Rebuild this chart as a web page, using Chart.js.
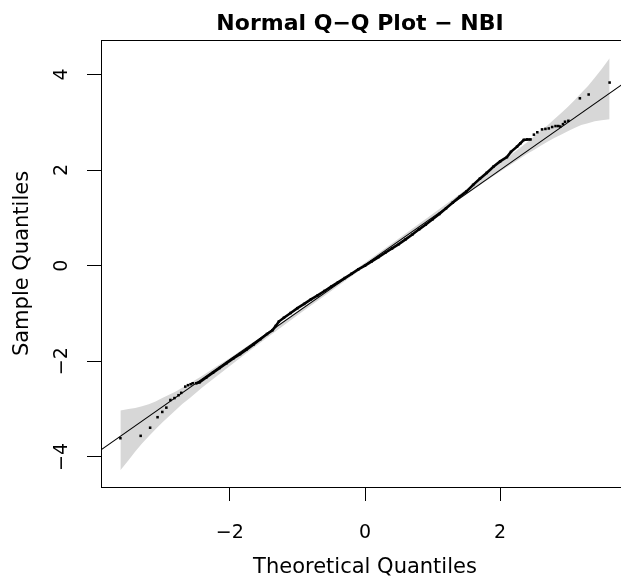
<!DOCTYPE html>
<html>
<head>
<meta charset="utf-8">
<script src="https://cdn.jsdelivr.net/npm/chart.js@4.4.1/dist/chart.umd.min.js"></script>
<style>
  html, body { margin: 0; padding: 0; background: #fff; overflow: hidden; }
  #wrap { width: 621px; height: 581px; overflow: hidden; position: relative; }
  canvas { display: block; }
</style>
</head>
<body>
<div id="wrap"><canvas id="c" width="633" height="581"></canvas></div>
<script>
// ---- data ----
const chartTitle = "Normal Q\u2212Q Plot \u2212 NBI";
const xAxisTitle = "Theoretical Quantiles";
const yAxisTitle = "Sample Quantiles";
const xTicks = [-2, 0, 2];
const yTicks = [-4, -2, 0, 2, 4];
const xRange = [-3.907, 3.907];
const yRange = [-4.63, 4.72];

// sample points (theoretical quantile, sample quantile)
const theoQ = [-3.62,-3.32,-3.18,-3.07,-3.00,-2.94,-2.88,-2.82,-2.76,-2.72,-2.66,-2.62,-2.58,-2.55,-2.50,
  -2.45,-2.35,-2.25,-2.15,-2.05,-1.95,-1.85,-1.75,-1.65,-1.55,-1.45,-1.37,-1.32,-1.275,-1.20,-1.10,-1.00,
  -0.90,-0.80,-0.70,-0.60,-0.50,-0.40,-0.30,-0.20,-0.10,0.00,0.10,0.20,0.30,0.40,0.50,0.60,0.70,0.80,0.90,
  1.00,1.10,1.20,1.30,1.40,1.50,1.60,1.70,1.80,1.90,2.00,2.10,2.16,2.25,2.30,2.35,2.40,2.45,2.50,2.55,2.62,
  2.67,2.72,2.77,2.82,2.86,2.89,2.93,2.96,3.01,3.18,3.31,3.62];
const sampleQ = [-3.61,-3.56,-3.39,-3.17,-3.06,-2.97,-2.81,-2.77,-2.71,-2.66,-2.53,-2.50,-2.48,-2.46,-2.46,
  -2.44,-2.34,-2.24,-2.14,-2.04,-1.94,-1.85,-1.75,-1.65,-1.54,-1.43,-1.35,-1.26,-1.17,-1.09,-0.99,-0.89,
  -0.80,-0.705,-0.62,-0.53,-0.44,-0.35,-0.26,-0.17,-0.08,0.00,0.09,0.18,0.27,0.36,0.45,0.55,0.65,0.76,0.86,
  0.97,1.08,1.20,1.32,1.44,1.55,1.69,1.82,1.94,2.07,2.18,2.27,2.38,2.49,2.56,2.63,2.64,2.64,2.74,2.79,2.85,
  2.86,2.87,2.90,2.92,2.92,2.91,2.96,3.01,3.03,3.50,3.58,3.83];
// the part where points are so dense they merge into a thick stroke
const denseFrom = -2.50, denseTo = 2.45;

// reference line
const lineIntercept = 0.018;
const lineSlope = 0.991;

// confidence envelope
const bandQ = [-3.62,-3.5,-3.4,-3.3,-3.2,-3.1,-3.0,-2.9,-2.8,-2.7,-2.6,-2.5,-2.4,-2.2,-2.0,-1.8,-1.5,-1.0,-0.5,0,
  0.5,1.0,1.5,1.8,2.0,2.2,2.4,2.5,2.6,2.7,2.8,2.9,3.0,3.1,3.2,3.3,3.4,3.5,3.62];
const bandUpper = [-3.03,-3.00,-2.98,-2.94,-2.90,-2.84,-2.77,-2.70,-2.63,-2.55,-2.47,-2.38,-2.30,-2.11,-1.93,-1.74,-1.45,-0.95,-0.45,0.06,
  0.57,1.08,1.60,1.92,2.14,2.36,2.58,2.70,2.82,2.93,3.06,3.19,3.32,3.46,3.61,3.76,3.93,4.11,4.34];
const bandLower = [-4.28,-4.07,-3.89,-3.72,-3.57,-3.42,-3.28,-3.15,-3.02,-2.89,-2.78,-2.66,-2.54,-2.32,-2.10,-1.88,-1.56,-1.04,-0.53,-0.02,
  0.49,0.99,1.49,1.78,1.97,2.15,2.34,2.42,2.51,2.59,2.67,2.74,2.81,2.88,2.94,2.98,3.02,3.04,3.06];

// ---- build datasets ----
const pts = theoQ.map((q, i) => ({ x: q, y: sampleQ[i] }));
const densePts = pts.filter(p => p.x >= denseFrom && p.x <= denseTo);
const upperPts = bandQ.map((q, i) => ({ x: q, y: bandUpper[i] }));
const lowerPts = bandQ.map((q, i) => ({ x: q, y: bandLower[i] }));
const refLine = xRange.map(q => ({ x: q, y: lineIntercept + lineSlope * q }));

const FONT = "'DejaVu Sans', 'Liberation Sans', Arial, sans-serif";
const fmt = v => (v < 0 ? "\u2212" + Math.abs(v) : String(v));

const decorPlugin = {
  id: 'decor',
  afterDraw(chart) {
    const { ctx, chartArea: a, scales } = chart;
    ctx.save();
    // box
    ctx.strokeStyle = '#000';
    ctx.lineWidth = 1;
    ctx.strokeRect(Math.round(a.left) + 0.5, Math.round(a.top) + 0.5,
                   Math.round(a.right - a.left), Math.round(a.bottom - a.top));
    // title
    ctx.fillStyle = '#000';
    ctx.font = "bold 22px " + FONT;
    ctx.textAlign = 'center';
    ctx.textBaseline = 'alphabetic';
    ctx.fillText(chartTitle, (a.left + a.right) / 2 - 5, 30);
    // y tick labels, rotated like R
    ctx.font = "19px " + FONT;
    ctx.textBaseline = 'middle';
    const ys = scales.y;
    yTicks.forEach(t => {
      const py = ys.getPixelForValue(t);
      ctx.save();
      ctx.translate(62.5, py);
      ctx.rotate(-Math.PI / 2);
      ctx.fillText(fmt(t), 0, 0);
      ctx.restore();
    });
    ctx.restore();
  }
};

new Chart(document.getElementById('c'), {
  type: 'scatter',
  data: {
    datasets: [
      { label: 'upper', data: upperPts, showLine: true, borderWidth: 0, pointRadius: 0,
        borderColor: 'rgba(0,0,0,0)', backgroundColor: '#d7d7d7', fill: '+1', order: 10, tension: 0 },
      { label: 'lower', data: lowerPts, showLine: true, borderWidth: 0, pointRadius: 0,
        borderColor: 'rgba(0,0,0,0)', fill: false, order: 11, tension: 0 },
      { label: 'line', data: refLine, showLine: true, borderWidth: 1.1, borderColor: '#000',
        pointRadius: 0, fill: false, order: 3 },
      { label: 'dense', data: densePts, showLine: true, borderWidth: 2.6, borderColor: '#000',
        pointRadius: 0, fill: false, order: 2 },
      { label: 'points', data: pts, showLine: false, pointStyle: 'rect', pointRadius: 1.8,
        backgroundColor: '#000', borderColor: '#000', borderWidth: 0, order: 1 }
    ]
  },
  options: {
    responsive: false,
    devicePixelRatio: 1,
    animation: false,
    events: [],
    layout: { padding: { top: 40, left: 0, right: 0, bottom: 0 } },
    plugins: { legend: { display: false }, tooltip: { enabled: false }, title: { display: false } },
    scales: {
      x: {
        type: 'linear', min: xRange[0], max: xRange[1],
        afterBuildTicks: s => { s.ticks = xTicks.map(v => ({ value: v })); },
        afterFit: s => { s.height = 94; },
        grid: { drawOnChartArea: false, drawTicks: true, tickLength: 14, color: '#000', lineWidth: 1 },
        border: { display: false },
        ticks: { color: '#000', font: { family: FONT, size: 19 }, padding: 21,
                 maxRotation: 0, autoSkip: false, callback: v => fmt(v) },
        title: { display: true, text: xAxisTitle, color: '#000',
                 font: { family: FONT, size: 21 }, padding: { top: 0, bottom: 1 } }
      },
      y: {
        type: 'linear', min: yRange[0], max: yRange[1],
        afterBuildTicks: s => { s.ticks = yTicks.map(v => ({ value: v })); },
        afterFit: s => { s.width = 101; },
        grid: { drawOnChartArea: false, drawTicks: true, tickLength: 14, color: '#000', lineWidth: 1 },
        border: { display: false },
        ticks: { display: false },
        title: { display: true, text: yAxisTitle, color: '#000',
                 font: { family: FONT, size: 21 }, padding: { top: 10, bottom: 0 } }
      }
    }
  },
  plugins: [decorPlugin]
});
</script>
</body>
</html>
